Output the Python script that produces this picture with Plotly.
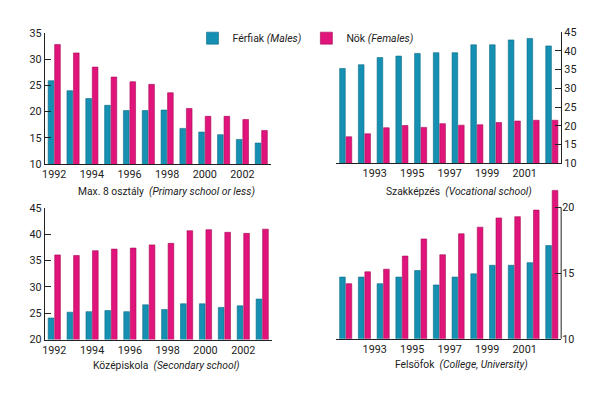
import plotly.graph_objects as go

years = list(range(1992, 2004))

# Max. 8 osztály (Primary school or less)
primary_male = [25.9, 24.0, 22.5, 21.2, 20.2, 20.2, 20.3, 16.8, 16.1, 15.6, 14.7, 14.0]
primary_female = [32.8, 31.2, 28.5, 26.6, 25.7, 25.2, 23.6, 20.6, 19.1, 19.1, 18.5, 16.4]

# Szakképzés (Vocational school)
voc_male = [35.3, 36.3, 38.2, 38.6, 39.3, 39.5, 39.5, 41.6, 41.6, 42.9, 43.3, 41.3]
voc_female = [17.1, 17.9, 19.5, 20.1, 19.6, 20.6, 20.2, 20.3, 20.9, 21.3, 21.5, 21.5]

# Középiskola (Secondary school)
sec_male = [24.1, 25.2, 25.3, 25.5, 25.3, 26.6, 25.7, 26.8, 26.8, 26.1, 26.4, 27.7]
sec_female = [36.1, 36.0, 36.9, 37.2, 37.4, 38.0, 38.3, 40.7, 40.9, 40.4, 40.2, 41.0]

# Felsőfok (College, University)
col_male = [14.7, 14.7, 14.2, 14.7, 15.2, 14.1, 14.7, 14.95, 15.6, 15.6, 15.8, 17.1]
col_female = [14.2, 15.1, 15.3, 16.3, 17.6, 16.4, 18.0, 18.5, 19.2, 19.3, 19.8, 21.3]

left_ticks = [1992, 1994, 1996, 1998, 2000, 2002]
right_ticks = [1993, 1995, 1997, 1999, 2001]
college_ticks = [10, 15, 20]

TEAL = "#1590b2"
PINK = "#e0147a"
INK = "#222222"
FONT = "Roboto, Liberation Sans, Arial, sans-serif"
TICK_SIZE = 10.8
TITLE_SIZE = 10.3

# The page body keeps the browser's default 8px margin, so the figure is
# sized to fit the 602x397 window inside it.
WIN_W, WIN_H = 602, 397
PAD = 8
W, H = WIN_W - 2 * PAD, WIN_H - 2 * PAD


def fx(px):
    return (px - PAD) / W


def fy(py):
    return (H - (py - PAD)) / H


fig = go.Figure()

panels = [
    ("x", "y", primary_male, primary_female),
    ("x2", "y2", voc_male, voc_female),
    ("x3", "y3", sec_male, sec_female),
    ("x4", "y4", col_male, col_female),
]

for i, (xa, ya, m, f) in enumerate(panels):
    fig.add_trace(go.Bar(x=years, y=m, name="Férfiak <i>(Males)</i>", marker_color=TEAL,
                         marker_line=dict(color="#0b6a85", width=0.6),
                         xaxis=xa, yaxis=ya, showlegend=(i == 0), legendgroup="m"))
    fig.add_trace(go.Bar(x=years, y=f, name="Nök <i>(Females)</i>", marker_color=PINK,
                         marker_line=dict(color="#a80a57", width=0.6),
                         xaxis=xa, yaxis=ya, showlegend=(i == 0), legendgroup="f"))

common_x = dict(range=[1991.5, 2003.5], showgrid=False, zeroline=False, showline=True,
                linecolor=INK, linewidth=1.2, ticks="",
                tickfont=dict(size=TICK_SIZE, color=INK, family=FONT), fixedrange=True)
common_y = dict(showgrid=False, zeroline=False, showline=True, linecolor=INK, linewidth=1,
                ticks="inside", ticklen=6, tickcolor=INK, tickwidth=1, dtick=5,
                tickfont=dict(size=TICK_SIZE, color=INK, family=FONT), fixedrange=True)

# College panel: the last bar rises above the top tick (20), so the plot area
# extends a little higher while the axis line stops at 20.
COL_TOP = 21.6
col_px_per_unit = (344.3 - 208.3) / 10.0
col_top_px = 208.3 - (COL_TOP - 20) * col_px_per_unit

fig.update_layout(
    xaxis=dict(common_x, domain=[fx(42), fx(269)], anchor="y",
               tickvals=left_ticks, ticktext=[str(t) for t in left_ticks]),
    yaxis=dict(common_y, domain=[fy(163.3), fy(27.7)], anchor="x", range=[10, 35], side="left"),
    xaxis2=dict(common_x, domain=[fx(335), fx(561)], anchor="y2",
                tickvals=[t + 0.55 for t in right_ticks], ticktext=[str(t) for t in right_ticks]),
    yaxis2=dict(common_y, domain=[fy(162.7), fy(26.7)], anchor="x2", range=[10, 45], side="right"),
    xaxis3=dict(common_x, domain=[fx(42), fx(270)], anchor="y3",
                tickvals=left_ticks, ticktext=[str(t) for t in left_ticks]),
    yaxis3=dict(common_y, domain=[fy(345), fy(209)], anchor="x3", range=[20, 45], side="left"),
    xaxis4=dict(common_x, domain=[fx(335), fx(561)], anchor="y4",
                tickvals=[t + 0.55 for t in right_ticks], ticktext=[str(t) for t in right_ticks]),
    yaxis4=dict(common_y, domain=[fy(344.3), fy(col_top_px)], anchor="x4",
                range=[10, COL_TOP], side="right", showline=False,
                tickmode="array", tickvals=college_ticks),
)

# axis line for the college panel, from its bottom tick to its top tick
fig.add_shape(type="line", xref="x4 domain", yref="y4", x0=1, x1=1,
              y0=college_ticks[0], y1=college_ticks[-1], line=dict(color=INK, width=1))

fig.update_layout(
    width=W, height=H,
    margin=dict(l=0, r=0, t=0, b=0),
    paper_bgcolor="white", plot_bgcolor="white",
    barmode="group", bargap=0.31, bargroupgap=0.13,
    font=dict(family=FONT, color=INK, size=TICK_SIZE),
    legend=dict(orientation="h", x=fx(304), xanchor="center", y=fy(33), yanchor="middle",
                font=dict(size=10.5, family=FONT, color=INK), itemwidth=30,
                bgcolor="rgba(0,0,0,0)", traceorder="normal"),
    showlegend=True,
)

titles = [
    ("Max. 8 osztály\u00a0\u00a0<i>(Primary school or less)</i>", 164, 191.7),
    ("Szakképzés\u00a0\u00a0<i>(Vocational school)</i>", 458, 191.7),
    ("Középiskola\u00a0\u00a0<i>(Secondary school)</i>", 164.5, 371.5),
    ("Felsöfok\u00a0\u00a0<i>(College, University)</i>", 460.5, 370.7),
]
for text, cx, cy in titles:
    fig.add_annotation(text=text, x=fx(cx), y=fy(cy), xref="paper", yref="paper",
                       xanchor="center", yanchor="middle", showarrow=False,
                       font=dict(size=TITLE_SIZE, family=FONT, color=INK))

fig.write_html("out.html", config={"displayModeBar": False})
